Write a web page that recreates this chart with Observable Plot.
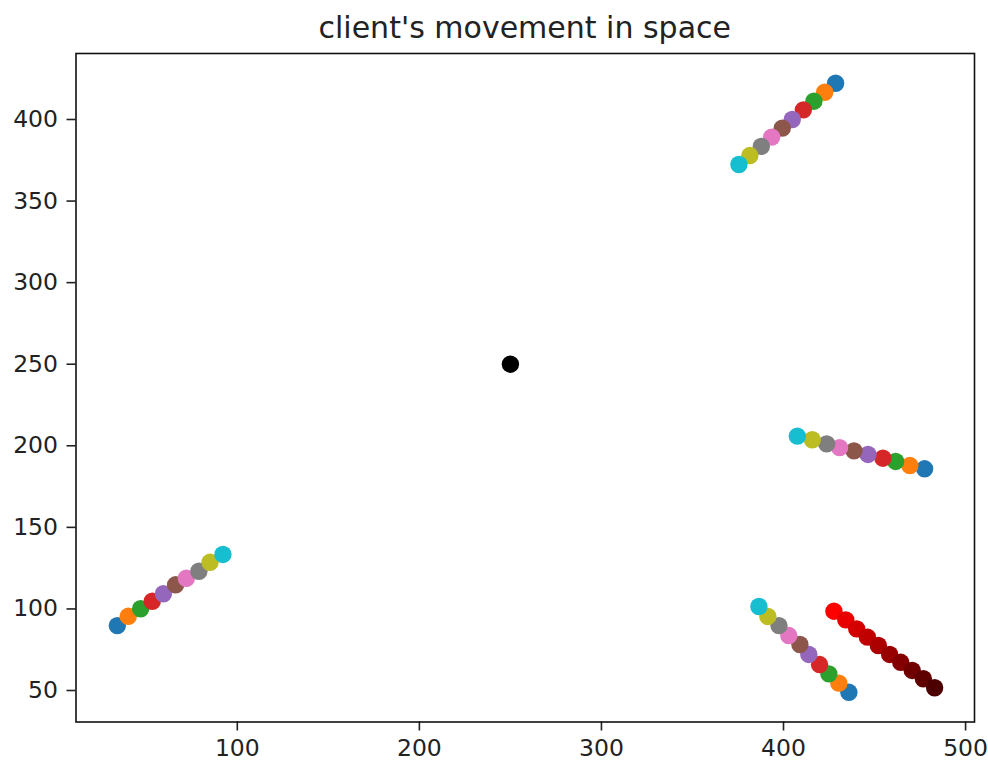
<!DOCTYPE html>
<html>
<head>
<meta charset="utf-8">
<script src="https://cdn.jsdelivr.net/npm/d3@7"></script>
<script src="https://cdn.jsdelivr.net/npm/@observablehq/plot@0.6"></script>
<style>
  body { margin: 0; background: #fff; font-family: "DejaVu Sans", sans-serif; }
  #title {
    box-sizing: border-box; width: 988px; height: 50px;
    padding: 5px 14px 0 75.5px;
    text-align: center; font-size: 30px; line-height: 45px;
    color: #222; white-space: nowrap;
  }
</style>
</head>
<body>
<div id="title">client's movement in space</div>
<div id="chart"></div>
<script>
// Colour for each of the ten time steps (matplotlib tab10 cycle)
const stepColors = ["#1f77b4", "#ff7f0e", "#2ca02c", "#d62728", "#9467bd",
                    "#8c564b", "#e377c2", "#7f7f7f", "#bcbd22", "#17becf"];

// Client positions per time step
const upperX = [428.6, 422.6, 416.7, 410.9, 404.8, 399.3, 393.5, 387.8, 381.5, 375.5];
const upperY = [422.2, 416.7, 411.2, 405.9, 400.0, 394.7, 389.2, 383.5, 377.9, 372.4];

const middleX = [477.5, 469.4, 461.6, 454.6, 446.4, 438.7, 430.8, 423.7, 415.8, 407.6];
const middleY = [185.9, 187.9, 190.4, 192.4, 194.7, 196.9, 198.9, 201.2, 203.7, 205.9];

const lowerX = [435.9, 430.4, 424.9, 419.8, 413.9, 409.0, 402.9, 397.5, 391.4, 386.5];
const lowerY = [48.9, 54.5, 60.2, 65.9, 72.1, 78.2, 83.7, 89.8, 95.4, 101.5];

const leftX = [34.1, 40.1, 46.9, 53.3, 59.4, 66.1, 72.0, 78.9, 85.0, 92.1];
const leftY = [89.8, 95.5, 100.1, 104.7, 109.3, 114.8, 118.8, 123.1, 128.6, 133.4];

// The tracked client, shaded from bright red to dark red over time
const trackedX = [427.7, 434.2, 440.2, 446.1, 452.1, 458.3, 464.4, 470.7, 476.8, 483.0];
const trackedY = [98.6, 93.3, 87.8, 82.7, 77.6, 72.1, 67.3, 62.3, 57.2, 51.7];
const trackedColors = ["#ff0000", "#e80000", "#d40000", "#c00000", "#ac0000",
                       "#980000", "#840000", "#700000", "#5e0000", "#4c0000"];

// Fixed centre point
const centerX = [250];
const centerY = [250];

// Axis ticks
const xTicks = [100, 200, 300, 400, 500];
const yTicks = [50, 100, 150, 200, 250, 300, 350, 400];

const rows = [];
for (const [xs, ys, cs] of [
  [upperX, upperY, stepColors],
  [middleX, middleY, stepColors],
  [lowerX, lowerY, stepColors],
  [trackedX, trackedY, trackedColors],
  [leftX, leftY, stepColors],
  [centerX, centerY, ["#000000"]]
]) {
  xs.forEach((x, i) => rows.push({x, y: ys[i], color: cs[i]}));
}

const chart = Plot.plot({
  width: 988,
  height: 715,
  marginTop: 3,
  marginBottom: 43.5,
  marginLeft: 75.5,
  marginRight: 14,
  style: {fontFamily: "DejaVu Sans, sans-serif", fontSize: "23.5px", color: "#222", background: "#fff", overflow: "visible"},
  x: {domain: [11.4, 504.9], label: null},
  y: {domain: [30.7, 440.45], label: null},
  color: {type: "identity"},
  marks: [
    Plot.dot(rows, {x: "x", y: "y", fill: "color", r: 8.7}),
    Plot.axisX({ticks: xTicks, tickSize: 9, tickPadding: 8, strokeWidth: 1.6, label: null}),
    Plot.axisY({ticks: yTicks, tickSize: 9, tickPadding: 9, strokeWidth: 1.6, label: null}),
    Plot.frame({stroke: "#111", strokeWidth: 1.6})
  ]
});
document.getElementById("chart").appendChild(chart);
</script>
</body>
</html>
